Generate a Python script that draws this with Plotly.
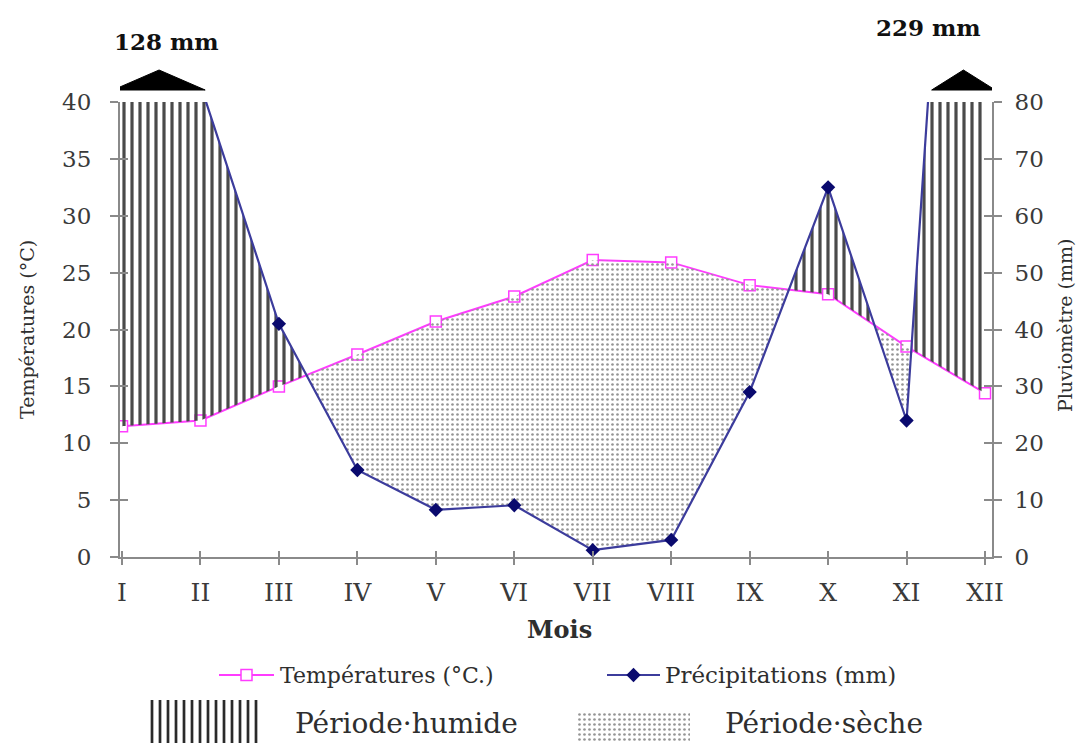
import numpy as np
import plotly.graph_objects as go

# ---------------- data ----------------
months = ["I", "II", "III", "IV", "V", "VI", "VII", "VIII", "IX", "X", "XI", "XII"]
temperature = [11.5, 12.0, 15.0, 17.8, 20.7, 22.9, 26.1, 25.9, 23.9, 23.1, 18.5, 14.4]
precipitation = [128, 83, 41, 15.3, 8.3, 9.1, 1.2, 3.0, 29, 65, 24, 229]
overflow_labels = ["128 mm", "229 mm"]
temp_ticks = list(range(0, 45, 5))
rain_ticks = list(range(0, 90, 10))
legend_names = ["Températures (°C.)", "Précipitations (mm)", "Période·humide", "Période·sèche"]
axis_titles = ["Températures (°C)", "Pluviomètre (mm)", "Mois"]

P_MAX = 80  # right axis top (mm) = 2 x 40 °C
FONT = "DejaVu Serif"
AXIS_COL = "#8a8a8a"
TEMP_COL = "#ff3cff"
RAIN_COL = "#3c3c9c"
TEXT_COL = "#2e2e2e"

W, H = 1081, 743


def fx(pix):  # pixel x -> paper
    return pix / W


def fy(pix):  # pixel y -> paper
    return 1 - pix / H


xi = np.arange(len(months))
xs = np.linspace(0, len(months) - 1, 4401)
p_d = np.interp(xs, xi, precipitation)
t2_d = 2 * np.interp(xs, xi, temperature)


def regions(mask, upper, lower):
    """Polygons (separated by None) for contiguous runs where mask is True."""
    px, py = [], []
    idx = np.where(mask)[0]
    if len(idx) == 0:
        return px, py
    runs = np.split(idx, np.where(np.diff(idx) != 1)[0] + 1)
    for r in runs:
        x_run = xs[r]
        px += list(x_run) + list(x_run[::-1]) + [x_run[0], None]
        py += list(upper[r]) + list(lower[r][::-1]) + [upper[r][0], None]
    return px, py


hum_x, hum_y = regions(p_d > t2_d, np.minimum(p_d, P_MAX), t2_d)
dry_x, dry_y = regions(p_d < t2_d, t2_d, p_d)

HUMID_PAT = dict(shape="|", fgcolor="#4a4a4a", bgcolor="rgba(0,0,0,0)", fgopacity=1,
                 size=8, solidity=0.4)
DRY_PAT = dict(shape=".", fgcolor="#959595", bgcolor="rgba(0,0,0,0)", fgopacity=1,
               size=5, solidity=0.22)

fig = go.Figure()
fig.add_trace(go.Scatter(x=hum_x, y=hum_y, yaxis="y2", fill="toself", mode="none",
                         fillcolor="rgba(0,0,0,0)", fillpattern=HUMID_PAT,
                         showlegend=False, hoverinfo="skip"))
fig.add_trace(go.Scatter(x=dry_x, y=dry_y, yaxis="y2", fill="toself", mode="none",
                         fillcolor="rgba(0,0,0,0)", fillpattern=DRY_PAT,
                         showlegend=False, hoverinfo="skip"))

TEMP_MARKER = dict(symbol="square", size=11, color="white", line=dict(color=TEMP_COL, width=1.5))
RAIN_MARKER = dict(symbol="diamond", size=11, color="#0a0a6e")

fig.add_trace(go.Scatter(x=xi, y=temperature, name=legend_names[0], mode="lines+markers",
                         line=dict(color=TEMP_COL, width=2), marker=TEMP_MARKER,
                         showlegend=False))
fig.add_trace(go.Scatter(x=xi, y=precipitation, yaxis="y2", name=legend_names[1],
                         mode="lines+markers", line=dict(color=RAIN_COL, width=2.2),
                         marker=RAIN_MARKER, showlegend=False))

# dummy traces so the crossing-tick overlay axes are drawn
for xa, ya in [("x2", "y"), ("x", "y3"), ("x", "y4")]:
    fig.add_trace(go.Scatter(x=[None], y=[None], xaxis=xa, yaxis=ya, showlegend=False,
                             hoverinfo="skip"))

# ---------------- custom legend (small helper axes) ----------------
# (pixel box x0, x1, y_top, y_bottom)
legend_boxes = {
    "temp": (219, 274, 665, 685),
    "rain": (607, 660, 665, 685),
    "humid": (148, 262, 700, 743),
    "dry": (577, 690, 712, 743),
}
layout_extra = {}
for k, (key, (x0, x1, yt, yb)) in enumerate(legend_boxes.items()):
    n = k + 3
    xa, ya = f"x{n}", f"y{n + 2}"
    layout_extra[f"xaxis{n}"] = dict(domain=[fx(x0), fx(x1)], range=[0, 1], visible=False,
                                     anchor=ya, fixedrange=True)
    layout_extra[f"yaxis{n + 2}"] = dict(domain=[fy(yb), fy(yt)], range=[0, 1], visible=False,
                                         anchor=xa, fixedrange=True)
    if key in ("temp", "rain"):
        col = TEMP_COL if key == "temp" else RAIN_COL
        mk = TEMP_MARKER if key == "temp" else RAIN_MARKER
        fig.add_trace(go.Scatter(x=[0, 0.5, 1], y=[0.5, 0.5, 0.5], xaxis=xa, yaxis=ya,
                                 mode="lines", line=dict(color=col, width=2),
                                 showlegend=False, hoverinfo="skip"))
        fig.add_trace(go.Scatter(x=[0.5], y=[0.5], xaxis=xa, yaxis=ya, mode="markers",
                                 marker=mk, showlegend=False, hoverinfo="skip", cliponaxis=False))
    else:
        pat = dict(HUMID_PAT, fgcolor="#2a2a2a", solidity=0.34) if key == "humid" else DRY_PAT
        fig.add_trace(go.Scatter(x=[0, 1, 1, 0, 0], y=[0, 0, 1, 1, 0], xaxis=xa, yaxis=ya,
                                 fill="toself", mode="none", fillcolor="rgba(0,0,0,0)",
                                 fillpattern=pat, showlegend=False, hoverinfo="skip"))

legend_texts = [
    (legend_names[0], 278, 675, 22),
    (legend_names[1], 663, 675, 23),
    (legend_names[2], 293, 723, 28),
    (legend_names[3], 723, 723, 28),
]
for txt, x0, yc, sz in legend_texts:
    fig.add_annotation(x=fx(x0), y=fy(yc), xref="paper", yref="paper", xanchor="left",
                       yanchor="middle", text=txt, showarrow=False,
                       font=dict(family=FONT, size=sz, color=TEXT_COL))

# ---------------- axes ----------------
PLOT_L, PLOT_R, PLOT_T, PLOT_B = 120, 992, 102, 557
XR = [-0.0255, 11.089]
xtickfont = dict(family=FONT, size=25, color="#3a3a3a")
ytickfont = dict(family=FONT, size=23, color="#3a3a3a")
common_axis = dict(showgrid=False, zeroline=False, linecolor=AXIS_COL, linewidth=2,
                   tickcolor=AXIS_COL, tickwidth=2, automargin=False)
overlay_axis = dict(showticklabels=False, showline=False, showgrid=False, zeroline=False,
                    tickcolor=AXIS_COL, tickwidth=2, ticks="inside", automargin=False)

fig.update_layout(
    width=W, height=H,
    margin=dict(l=0, r=0, t=0, b=0, autoexpand=False),
    paper_bgcolor="white", plot_bgcolor="white",
    font=dict(family=FONT, color=TEXT_COL),
    showlegend=False,
    xaxis=dict(domain=[fx(PLOT_L), fx(PLOT_R)], range=XR, tickvals=list(xi), ticktext=months,
               ticks="outside", ticklen=6, ticklabelstandoff=6, showline=True,
               tickfont=xtickfont, anchor="y", **common_axis),
    xaxis2=dict(range=XR, matches="x", overlaying="x", tickvals=list(xi), ticklen=6,
                anchor="y", **overlay_axis),
    yaxis=dict(domain=[fy(PLOT_B), fy(PLOT_T)], range=[0, 40], tickvals=temp_ticks,
               ticks="outside", ticklen=8, ticklabelstandoff=14, showline=True,
               tickfont=ytickfont, anchor="x", **common_axis),
    yaxis2=dict(range=[0, P_MAX], tickvals=rain_ticks, ticks="outside", ticklen=8,
                ticklabelstandoff=8, showline=True, overlaying="y", side="right",
                tickfont=ytickfont, anchor="x", **common_axis),
    yaxis3=dict(range=[0, 40], matches="y", overlaying="y", tickvals=temp_ticks, ticklen=8,
                anchor="x", **overlay_axis),
    yaxis4=dict(range=[0, P_MAX], matches="y2", overlaying="y", side="right",
                tickvals=rain_ticks, ticklen=8, anchor="x", **overlay_axis),
    **layout_extra,
)

# axis titles
title_font = dict(family=FONT, size=19, color=TEXT_COL)
fig.add_annotation(x=fx(27), y=fy(330), xref="paper", yref="paper", text=axis_titles[0],
                   textangle=-90, showarrow=False, xanchor="center", yanchor="middle",
                   font=title_font)
fig.add_annotation(x=fx(1065), y=fy(326), xref="paper", yref="paper", text=axis_titles[1],
                   textangle=-90, showarrow=False, xanchor="center", yanchor="middle",
                   font=title_font)
fig.add_annotation(x=fx(559), y=fy(629), xref="paper", yref="paper",
                   text=f"<b>{axis_titles[2]}</b>", showarrow=False, xanchor="center",
                   yanchor="middle", font=dict(family=FONT, size=24, color=TEXT_COL))

# overflow markers (values above the axis top): black triangles + value labels
tri_specs = [  # (x0, x1 in month units, label, label pixel y, label x offset)
    (-0.115, 1.06, overflow_labels[0], 41, 0.09),
    (10.32, 11.13, overflow_labels[1], 27, -0.45),
]
for x0, x1, lab, ly, dx in tri_specs:
    xm = (x0 + x1) / 2
    fig.add_shape(type="path", xref="x", yref="paper",
                  path=f"M {x0} {fy(90)} L {x1} {fy(90)} L {xm} {fy(70)} Z",
                  fillcolor="black", line=dict(color="black", width=1))
    fig.add_annotation(x=xm + dx, y=fy(ly), xref="x", yref="paper", text=f"<b>{lab}</b>",
                       showarrow=False, xanchor="center", yanchor="middle",
                       font=dict(family=FONT, size=23, color="#111"))

fig.write_html("out.html", config={"displayModeBar": False},
               post_script="document.body.style.margin='0px';document.body.style.padding='0px';")
